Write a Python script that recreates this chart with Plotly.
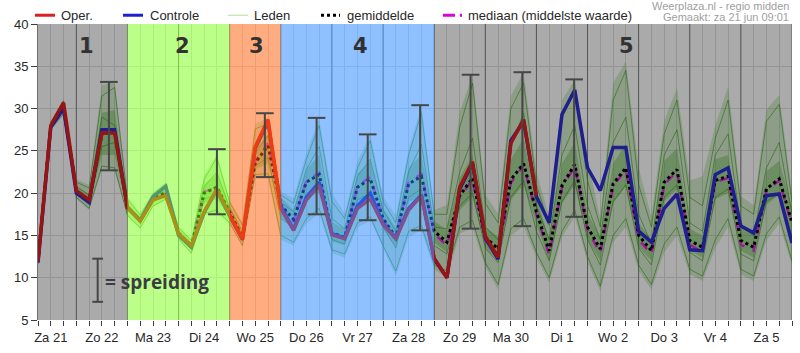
import plotly.graph_objects as go

# ---------------- data ----------------
day_labels = ["Za 21", "Zo 22", "Ma 23", "Di 24", "Wo 25", "Do 26", "Vr 27", "Za 28",
              "Zo 29", "Ma 30", "Di 1", "Wo 2", "Do 3", "Vr 4", "Za 5"]
steps = list(range(60))  # 6-hourly steps, step 0 = za 21 06:00

oper = [12.0, 28.0, 30.7, 20.3, 19.2, 27.1, 27.1, 18.3, 16.7, 19.2,
        19.7, 15.2, 13.8, 17.8, 20.5, 17.4, 14.6, 25.5, 28.7, 18.2,
        15.6, 19.2, 20.9, 15.1, 14.6, 18.2, 19.3, 16.3, 14.6, 18.0,
        19.7, 12.3, 10.0, 20.7, 23.7, 14.9, 12.4, 25.9, 28.7, 19.7]

control = [11.8, 27.8, 30.0, 20.0, 18.9, 27.5, 27.5, 18.3, 16.8, 19.6,
           20.8, 15.0, 13.6, 17.7, 20.4, 17.3, 14.5, 25.3, 28.4, 18.4,
           15.7, 19.5, 21.3, 15.2, 14.7, 18.5, 20.0, 16.4, 14.7, 18.2,
           19.8, 12.2, 10.0, 20.5, 23.5, 14.7, 12.2, 26.2, 28.5, 19.6,
           16.5, 29.3, 32.2, 23.0, 20.3, 25.4, 25.4, 15.5, 14.2, 18.2,
           19.9, 13.3, 13.2, 22.2, 23.0, 16.1, 15.3, 19.7, 19.9, 14.1]

mean = [12.0, 28.0, 30.1, 20.3, 19.1, 27.0, 27.3, 18.3, 16.8, 19.3,
        20.1, 15.3, 13.7, 20.0, 20.7, 17.8, 14.8, 23.6, 25.6, 18.6,
        16.9, 21.3, 22.2, 15.3, 14.8, 20.7, 21.7, 17.0, 14.8, 21.1,
        22.0, 15.5, 14.2, 19.7, 21.8, 14.8, 13.4, 21.6, 23.5, 17.8,
        13.2, 20.9, 23.4, 16.0, 13.4, 21.1, 23.0, 15.0, 13.2, 21.3,
        22.8, 14.4, 13.6, 21.5, 22.0, 14.4, 13.6, 20.5, 21.7, 16.5]

median = [12.0, 28.0, 30.2, 20.3, 19.0, 27.0, 27.4, 18.3, 16.8, 19.2,
          20.0, 15.3, 13.6, 20.2, 20.6, 17.7, 14.7, 23.8, 25.9, 18.6,
          16.6, 21.5, 22.4, 15.1, 14.6, 20.9, 21.9, 16.9, 14.6, 21.3,
          22.3, 15.2, 13.8, 19.5, 21.6, 14.4, 12.8, 21.2, 23.3, 17.5,
          12.7, 20.6, 23.2, 15.6, 12.9, 20.8, 22.8, 14.5, 12.8, 21.0,
          22.6, 13.9, 13.0, 21.3, 21.8, 13.9, 13.2, 20.3, 21.5, 16.2]

ens_min = [11.5, 27.4, 29.2, 19.3, 18.0, 22.7, 22.6, 17.2, 15.8, 18.4,
           19.2, 14.5, 12.8, 17.4, 17.6, 16.3, 13.6, 21.8, 21.7, 14.5,
           13.8, 16.4, 17.6, 12.9, 12.4, 15.9, 16.8, 13.4, 10.2, 14.8,
           15.6, 11.0, 10.0, 15.2, 15.9, 11.3, 8.6, 15.0, 16.1, 12.4,
           9.4, 14.8, 17.2, 11.8, 8.4, 14.2, 16.0, 10.8, 8.6, 13.0,
           15.0, 10.4, 9.6, 13.5, 16.0, 10.4, 9.6, 14.4, 16.4, 11.4]

ens_max = [12.4, 28.6, 31.1, 21.6, 21.0, 32.8, 33.1, 19.6, 17.6, 20.1,
           21.3, 16.1, 14.6, 22.2, 24.6, 19.2, 16.6, 28.2, 28.9, 20.2,
           19.4, 24.8, 28.8, 20.0, 17.6, 23.8, 27.0, 19.6, 17.4, 25.2,
           30.4, 18.0, 18.6, 29.6, 34.0, 19.8, 17.6, 31.5, 34.3, 22.5,
           17.2, 31.0, 33.4, 24.0, 17.0, 33.0, 35.6, 23.0, 17.2, 28.6,
           32.4, 21.5, 22.0, 28.0, 32.6, 19.6, 18.6, 29.9, 31.6, 20.0]

core_lo = [11.8, 27.8, 29.7, 19.8, 18.6, 24.5, 24.5, 17.9, 16.4, 18.9,
           19.6, 14.9, 13.3, 18.8, 19.3, 17.2, 14.2, 22.8, 23.5, 17.2,
           15.6, 19.5, 20.0, 14.3, 13.8, 19.0, 19.5, 15.8, 13.6, 19.0,
           19.5, 14.2, 13.0, 18.0, 19.5, 13.6, 12.0, 19.2, 21.0, 16.3,
           12.0, 18.8, 21.0, 14.5, 12.0, 18.8, 20.8, 13.6, 12.0, 19.0,
           20.5, 13.2, 12.4, 19.3, 20.0, 13.2, 12.4, 18.6, 19.8, 14.8]

core_hi = [12.2, 28.3, 30.6, 20.8, 19.8, 29.5, 29.8, 18.8, 17.2, 19.7,
           20.6, 15.7, 14.2, 21.0, 22.3, 18.5, 15.5, 25.2, 27.0, 19.5,
           18.0, 22.8, 24.5, 16.6, 15.8, 22.3, 23.8, 18.2, 15.9, 23.0,
           24.5, 16.7, 15.6, 21.8, 24.5, 16.0, 14.8, 24.0, 26.5, 19.3,
           14.6, 23.5, 26.0, 17.6, 14.8, 23.5, 25.8, 16.5, 14.5, 23.8,
           25.3, 15.8, 15.0, 24.0, 24.5, 15.8, 15.0, 22.6, 23.8, 18.3]

member_a = [12.3, 28.4, 30.9, 21.3, 20.6, 31.5, 32.5, 19.3, 17.4, 19.9,
            21.1, 15.9, 14.4, 21.6, 24.2, 18.9, 16.2, 27.6, 28.2, 19.8,
            18.8, 24.0, 28.0, 19.0, 17.0, 23.0, 26.2, 19.0, 16.5, 24.5,
            29.5, 17.5, 17.5, 27.8, 33.0, 18.8, 16.5, 30.0, 33.0, 21.0,
            16.2, 29.0, 32.0, 21.5, 16.0, 31.0, 34.5, 21.0, 16.0, 27.0,
            31.0, 19.5, 18.5, 26.5, 31.0, 18.5, 17.5, 28.5, 30.5, 19.0]
member_b = [11.6, 27.6, 29.4, 19.5, 18.2, 23.2, 23.0, 17.4, 15.9, 18.5,
            19.3, 14.6, 12.9, 17.6, 18.0, 16.5, 13.8, 22.2, 22.3, 15.0,
            14.2, 17.0, 18.2, 13.3, 12.8, 16.5, 17.2, 13.8, 10.8, 15.5,
            16.2, 11.5, 10.8, 16.0, 16.8, 11.8, 9.2, 15.8, 17.0, 13.0,
            10.0, 15.5, 18.0, 12.5, 9.0, 15.0, 17.0, 11.5, 9.2, 14.0,
            16.0, 11.0, 10.2, 14.5, 17.0, 11.0, 10.2, 15.2, 17.2, 12.0]
member_c = [12.1, 28.1, 30.4, 20.8, 19.8, 29.0, 28.0, 18.6, 17.0, 19.5,
            20.3, 15.4, 14.0, 20.8, 22.5, 18.2, 15.5, 24.8, 26.8, 18.9,
            17.8, 22.8, 25.5, 17.0, 15.8, 22.0, 24.0, 18.0, 15.5, 22.5,
            25.8, 16.0, 15.8, 22.5, 26.5, 16.0, 14.5, 25.5, 29.5, 18.5,
            14.5, 24.5, 28.0, 18.5, 14.5, 26.0, 29.0, 17.5, 14.0, 24.5,
            27.5, 16.5, 15.5, 24.5, 27.0, 16.0, 15.0, 23.0, 26.0, 17.5]
member_d = [11.9, 27.9, 29.9, 20.0, 18.8, 25.5, 26.0, 18.0, 16.5, 19.0,
            19.8, 15.0, 13.4, 19.3, 19.8, 17.0, 14.5, 23.2, 24.2, 17.0,
            16.0, 20.0, 20.5, 14.5, 14.0, 19.2, 20.0, 16.0, 13.5, 19.5,
            20.5, 13.8, 12.8, 18.5, 20.0, 13.5, 11.8, 19.5, 21.5, 15.5,
            12.0, 19.0, 21.5, 14.5, 11.5, 19.0, 21.0, 13.5, 11.5, 19.5,
            21.0, 13.0, 12.0, 19.5, 20.5, 12.8, 12.0, 19.0, 20.0, 14.8]
members = [member_a, member_b, member_c, member_d]

bar_x = [5.55, 14.0, 17.75, 21.8, 25.8, 29.9, 33.85, 37.9, 41.95]
bar_lo = [22.7, 17.5, 21.9, 17.5, 16.8, 15.6, 15.8, 16.1, 17.2]
bar_hi = [33.15, 25.2, 29.45, 28.9, 26.95, 30.4, 34.0, 34.3, 33.45]

region_names = ["1", "2", "3", "4", "5"]
region_bounds = [(0, 7), (7, 15), (15, 19), (19, 31), (31, 59)]

# ---------------- styles ----------------
region_fill = ["rgba(0,0,0,0.333)", "rgba(119,255,17,0.5)", "rgba(255,89,1,0.5)",
               "rgba(31,129,255,0.5)", "rgba(0,0,0,0.333)"]
region_label_x = [3.81, 11.32, 17.11, 25.2, 46.06]
RED = "rgb(225,30,30)"
BLUE = "rgb(45,45,215)"
MAG = "rgb(240,40,240)"
BARC = "rgb(70,70,70)"
FONT = "Liberation Sans, Arial, sans-serif"

fig = go.Figure()

# day separator lines (midnights)
dx, dy = [], []
for d in range(3, 60, 4):
    dx += [d, d, None]
    dy += [5, 40, None]
fig.add_trace(go.Scatter(x=dx, y=dy, mode="lines", line=dict(color="rgb(128,128,128)", width=1),
                         hoverinfo="skip"))

# ensemble members
fig.add_trace(go.Scatter(x=steps, y=ens_min, mode="lines", line=dict(width=0), hoverinfo="skip"))
fig.add_trace(go.Scatter(x=steps, y=ens_max, mode="lines", line=dict(width=0), fill="tonexty",
                         fillcolor="rgba(80,175,40,0.24)", hoverinfo="skip"))
fig.add_trace(go.Scatter(x=steps, y=core_lo, mode="lines", line=dict(width=0), hoverinfo="skip"))
fig.add_trace(go.Scatter(x=steps, y=core_hi, mode="lines", line=dict(width=0), fill="tonexty",
                         fillcolor="rgba(50,160,15,0.30)", hoverinfo="skip"))
for m in members:
    fig.add_trace(go.Scatter(x=steps, y=m, mode="lines",
                             line=dict(color="rgba(40,150,10,0.55)", width=1), hoverinfo="skip"))

fig.add_trace(go.Scatter(x=steps, y=median, mode="lines", line=dict(color=MAG, width=2.5, dash="dash")))
fig.add_trace(go.Scatter(x=steps, y=mean, mode="lines", line=dict(color="black", width=3, dash="dot")))
fig.add_trace(go.Scatter(x=steps, y=control, mode="lines", line=dict(color=BLUE, width=3.5)))
fig.add_trace(go.Scatter(x=steps[:len(oper)], y=oper, mode="lines", line=dict(color=RED, width=3.5)))

shapes = []
for (x0, x1), fc in zip(region_bounds, region_fill):
    shapes.append(dict(type="rect", xref="x", yref="paper", x0=x0, x1=x1, y0=0, y1=1,
                       fillcolor=fc, line=dict(width=0), layer="above"))

cap = 0.69
for bx, lo, hi in zip(bar_x, bar_lo, bar_hi):
    shapes.append(dict(type="line", xref="x", yref="y", x0=bx, x1=bx, y0=lo, y1=hi,
                       line=dict(color=BARC, width=2), layer="above"))
    for yy in (lo, hi):
        shapes.append(dict(type="line", xref="x", yref="y", x0=bx - cap, x1=bx + cap, y0=yy, y1=yy,
                           line=dict(color=BARC, width=2), layer="above"))

# "spreiding" key
kx, klo, khi, kcap = 4.67, 7.15, 12.25, 0.42
shapes.append(dict(type="line", xref="x", yref="y", x0=kx, x1=kx, y0=klo, y1=khi,
                   line=dict(color=BARC, width=2), layer="above"))
for yy in (klo, khi):
    shapes.append(dict(type="line", xref="x", yref="y", x0=kx - kcap, x1=kx + kcap, y0=yy, y1=yy,
                       line=dict(color=BARC, width=2), layer="above"))

# legend symbols (paper coords)
def px(xp):
    return (xp - 38) / 754.0

def py(yp):
    return (328 - yp) / 304.0

ly = py(15)
shapes += [
    dict(type="line", xref="paper", yref="paper", x0=px(35), x1=px(55), y0=ly, y1=ly,
         line=dict(color="rgb(220,30,30)", width=3)),
    dict(type="line", xref="paper", yref="paper", x0=px(123), x1=px(143), y0=ly, y1=ly,
         line=dict(color="rgb(30,30,210)", width=3)),
    dict(type="line", xref="paper", yref="paper", x0=px(228), x1=px(248), y0=ly, y1=ly,
         line=dict(color="rgb(175,225,155)", width=1)),
    dict(type="line", xref="paper", yref="paper", x0=px(321), x1=px(340), y0=ly, y1=ly,
         line=dict(color="black", width=3, dash="3px,3px")),
    dict(type="line", xref="paper", yref="paper", x0=px(443), x1=px(463), y0=ly, y1=ly,
         line=dict(color="rgb(220,0,220)", width=3, dash="12px,5px,2px,10px")),
]

annotations = []
for name, lx in zip(region_names, region_label_x):
    annotations.append(dict(x=lx, y=37.4, xref="x", yref="y", text="<b>%s</b>" % name, showarrow=False,
                            font=dict(family="DejaVu Sans, sans-serif", size=21, color="rgb(50,50,50)")))
annotations.append(dict(x=5.05, y=9.5, xref="x", yref="y", text="<b>= spreiding</b>", showarrow=False,
                        xanchor="left", yanchor="middle",
                        font=dict(family="Open Sans, sans-serif", size=19, color="rgb(60,60,70)")))
leg = [("Oper.", 59), ("Controle", 147.5), ("Leden", 252), ("gemiddelde", 345),
       ("mediaan (middelste waarde)", 466)]
for t, xp in leg:
    annotations.append(dict(x=px(xp), y=ly, xref="paper", yref="paper", text=t, showarrow=False,
                            xanchor="left", yanchor="middle",
                            font=dict(family=FONT, size=13, color="rgb(40,40,40)")))
annotations.append(dict(x=px(791), y=py(6), xref="paper", yref="paper", text="Weerplaza.nl - regio midden",
                        showarrow=False, xanchor="right", yanchor="middle",
                        font=dict(family=FONT, size=11, color="rgb(160,160,160)")))
annotations.append(dict(x=px(791), y=py(17), xref="paper", yref="paper", text="Gemaakt: za 21 jun 09:01",
                        showarrow=False, xanchor="right", yanchor="middle",
                        font=dict(family=FONT, size=11, color="rgb(160,160,160)")))

ticktext = []
for i in steps:
    if (i - 1) % 4 == 0 and (i - 1) // 4 < len(day_labels):
        ticktext.append(day_labels[(i - 1) // 4])
    else:
        ticktext.append("")

fig.update_layout(
    width=800, height=353,
    margin=dict(l=38, r=8, t=24, b=25),
    paper_bgcolor="white", plot_bgcolor="white",
    showlegend=False, hovermode=False,
    shapes=shapes, annotations=annotations,
    xaxis=dict(range=[0, 59], tickmode="array", tickvals=steps, ticktext=ticktext,
               ticks="outside", ticklen=5, tickcolor="rgb(60,60,60)", showgrid=True,
               gridcolor="rgb(222,222,222)", gridwidth=1, zeroline=False, showline=False,
               tickfont=dict(family=FONT, size=13, color="rgb(40,40,40)")),
    yaxis=dict(range=[5, 40], tickmode="array", tickvals=[5, 10, 15, 20, 25, 30, 35, 40],
               ticks="outside", ticklen=6, tickcolor="rgb(60,60,60)", showgrid=True,
               gridcolor="rgb(222,222,222)", gridwidth=1, zeroline=False,
               showline=True, linecolor="rgb(110,110,110)", linewidth=1,
               tickfont=dict(family=FONT, size=13, color="rgb(40,40,40)")),
)

fig.write_html("out.html")
